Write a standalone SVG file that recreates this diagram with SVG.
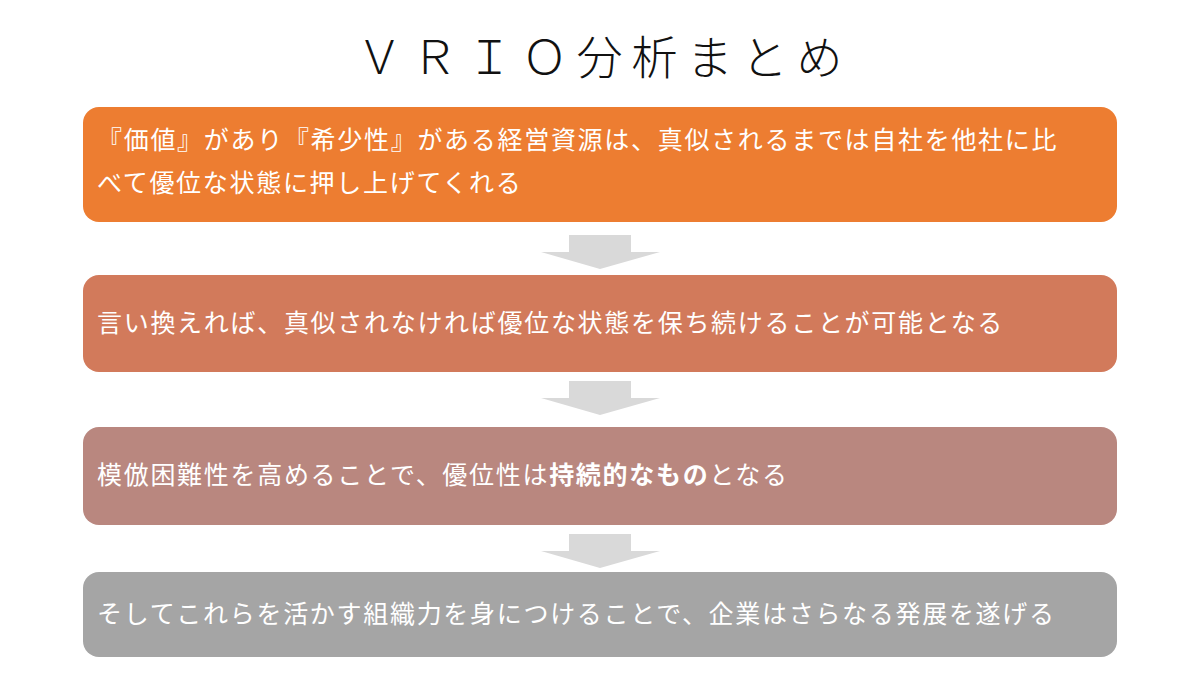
<svg xmlns="http://www.w3.org/2000/svg" width="1200" height="675" viewBox="0 0 1200 675">
<defs><style>
.t{font-family:"Noto Sans CJK JP","Noto Sans",sans-serif;fill:#fff;font-size:25px;letter-spacing:1.7px}
.a{fill:#D9D9D9}
</style>
<path id="arr" class="a" d="M569 0H631V17H660L600 34L541 17H569Z"/></defs>
<rect width="1200" height="675" fill="#fff"/>
<text x="604" y="74" text-anchor="middle" font-family="Noto Sans CJK JP,sans-serif" font-weight="300" font-size="46" fill="#111" letter-spacing="9">ＶＲＩＯ分析まとめ</text>
<g id="connectors">
<use href="#arr" y="235"/>
<use href="#arr" y="381"/>
<use href="#arr" y="534"/>
</g>
<g id="n1"><rect x="83" y="107" width="1034" height="115" rx="16" fill="#ED7D31"/>
<text class="t" x="97" y="149">『価値』があり『希少性』がある経営資源は、真似されるまでは自社を他社に比</text>
<text class="t" x="97" y="192">べて優位な状態に押し上げてくれる</text></g>
<g id="n2"><rect x="83" y="275" width="1034" height="97" rx="16" fill="#D27A5B"/>
<text class="t" x="97" y="332">言い換えれば、真似されなければ優位な状態を保ち続けることが可能となる</text></g>
<g id="n3"><rect x="83" y="427" width="1034" height="98" rx="16" fill="#B9877F"/>
<text class="t" x="97" y="484">模倣困難性を高めることで、優位性は<tspan font-weight="bold">持続的なもの</tspan>となる</text></g>
<g id="n4"><rect x="83" y="572" width="1034" height="85" rx="16" fill="#A5A5A5"/>
<text class="t" x="97" y="623">そしてこれらを活かす組織力を身につけることで、企業はさらなる発展を遂げる</text></g>
</svg>
